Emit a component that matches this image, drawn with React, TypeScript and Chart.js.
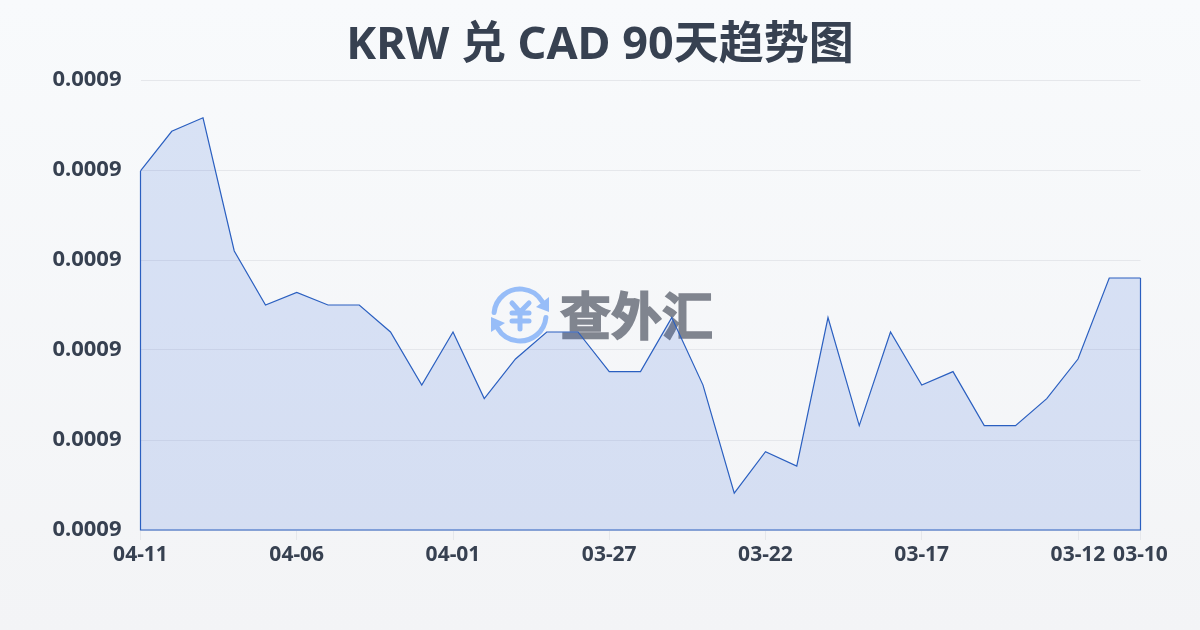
import React, { useEffect, useRef } from "react";
import { Chart, registerables } from "chart.js";

Chart.register(...registerables);

const dates = [
  "04-11", "04-10", "04-09", "04-08", "04-07", "04-06", "04-05", "04-04", "04-03", "04-02", "04-01",
  "03-31", "03-30", "03-29", "03-28", "03-27", "03-26", "03-25", "03-24", "03-23", "03-22",
  "03-21", "03-20", "03-19", "03-18", "03-17", "03-16", "03-15", "03-14", "03-13", "03-12", "03-11", "03-10",
];
const rates = [
  0.0009199, 0.0009243, 0.0009258, 0.000911, 0.000905, 0.0009064, 0.000905, 0.000905, 0.000902, 0.0008961, 0.000902,
  0.0008946, 0.000899, 0.000902, 0.000902, 0.0008976, 0.0008976, 0.0009036, 0.0008961, 0.0008841, 0.0008887,
  0.0008871, 0.0009036, 0.0008916, 0.000902, 0.0008961, 0.0008976, 0.0008916, 0.0008916, 0.0008946, 0.000899, 0.000908, 0.000908,
];
const titleText = "KRW 兑 CAD 90天趋势图";
const watermarkText = "查外汇";
const FONT = '"Noto Sans", "Noto Sans CJK SC", sans-serif';
const LINE = "#2a5fc0";

const watermark = {
  id: "watermark",
  beforeDatasetsDraw(chart: any) {
    const ctx = chart.ctx;
    ctx.save();
    ctx.fillStyle = "#80858f";
    ctx.strokeStyle = "#80858f";
    ctx.lineWidth = 1.6;
    ctx.font = '700 51px "Noto Sans CJK SC", sans-serif';
    ctx.textAlign = "left";
    ctx.textBaseline = "middle";
    ctx.fillText(watermarkText, 560, 316);
    ctx.strokeText(watermarkText, 560, 316);

    const blue = "#97bdf8";
    const cx = 520, cy = 315, r = 26;
    ctx.strokeStyle = blue;
    ctx.fillStyle = blue;
    ctx.lineWidth = 5;
    ctx.lineCap = "round";
    ctx.lineJoin = "round";
    ctx.beginPath();
    ctx.arc(cx, cy, r, Math.PI * 1.03, Math.PI * 1.83);
    ctx.stroke();
    ctx.beginPath();
    ctx.arc(cx, cy, r, Math.PI * 0.03, Math.PI * 0.83);
    ctx.stroke();
    ctx.beginPath();
    ctx.moveTo(549, 312);
    ctx.lineTo(549, 297);
    ctx.lineTo(536, 307);
    ctx.closePath();
    ctx.fill();
    ctx.beginPath();
    ctx.moveTo(491, 317);
    ctx.lineTo(491, 332);
    ctx.lineTo(505, 323);
    ctx.closePath();
    ctx.fill();
    ctx.beginPath();
    ctx.moveTo(512, 303);
    ctx.lineTo(520, 312);
    ctx.lineTo(529, 303);
    ctx.moveTo(512, 313);
    ctx.lineTo(529, 313);
    ctx.moveTo(512, 321);
    ctx.lineTo(529, 321);
    ctx.moveTo(520, 312);
    ctx.lineTo(520, 329);
    ctx.stroke();
    ctx.restore();
  },
};

const areaOutline = {
  id: "areaOutline",
  afterDatasetsDraw(chart: any) {
    const { ctx, scales } = chart;
    const first = scales.x.getPixelForValue(0);
    const last = scales.x.getPixelForValue(dates.length - 1);
    const bottom = scales.y.bottom;
    ctx.save();
    ctx.strokeStyle = LINE;
    ctx.lineWidth = 1.2;
    ctx.beginPath();
    ctx.moveTo(first, scales.y.getPixelForValue(rates[0]));
    ctx.lineTo(first, bottom);
    ctx.lineTo(last, bottom);
    ctx.lineTo(last, scales.y.getPixelForValue(rates[rates.length - 1]));
    ctx.stroke();
    ctx.restore();
  },
};

export default function App() {
  const ref = useRef<HTMLCanvasElement>(null);
  useEffect(() => {
    document.body.style.margin = "0";
    const chart = new Chart(ref.current as HTMLCanvasElement, {
      type: "line",
      data: {
        labels: dates,
        datasets: [
          {
            data: rates,
            borderColor: LINE,
            borderWidth: 1.2,
            backgroundColor: "rgba(38,95,215,0.15)",
            fill: "start",
            pointRadius: 0,
            tension: 0,
          },
        ],
      },
      options: {
        responsive: false,
        animation: false,
        devicePixelRatio: 1,
        plugins: {
          legend: { display: false },
          tooltip: { enabled: false },
          title: {
            display: true,
            text: titleText,
            color: "#374151",
            font: { family: FONT, size: 45, weight: "bold", lineHeight: 1.2 },
            padding: { top: 19, bottom: 7 },
          },
        },
        scales: {
          x: {
            type: "category",
            offset: false,
            afterBuildTicks(scale: any) {
              scale.ticks = scale.ticks.filter(
                (t: any) => t.value % 5 === 0 || t.value === dates.length - 1
              );
            },
            afterFit(scale: any) {
              scale.height = 100;
              scale.paddingRight = 59.5;
            },
            ticks: {
              autoSkip: false,
              maxRotation: 0,
              minRotation: 0,
              color: "#374151",
              padding: 2,
              font: { family: FONT, size: 21, weight: "bold" },
              callback(this: any, value: any) {
                return dates[value];
              },
            },
            grid: {
              drawOnChartArea: false,
              drawTicks: true,
              tickLength: 10,
              tickColor: "#e5e7eb",
            },
            border: { display: false },
          },
          y: {
            min: 0.00088,
            max: 0.00093,
            afterFit(scale: any) {
              scale.width = 140.5;
            },
            ticks: {
              stepSize: 0.00001,
              color: "#374151",
              padding: 19,
              font: { family: FONT, size: 22, weight: "bold" },
              callback(value: any) {
                return Number(value).toFixed(4);
              },
            },
            grid: { color: "#e5e7eb", lineWidth: 1, drawTicks: false },
            border: { display: false },
          },
        },
      },
      plugins: [watermark, areaOutline],
    } as any);
    return () => chart.destroy();
  }, []);
  return (
    <div style={{ width: 1200, height: 630, background: "linear-gradient(180deg,#f8fafc,#f3f4f6)" }}>
      <canvas ref={ref} width={1200} height={630} style={{ display: "block" }} />
    </div>
  );
}
